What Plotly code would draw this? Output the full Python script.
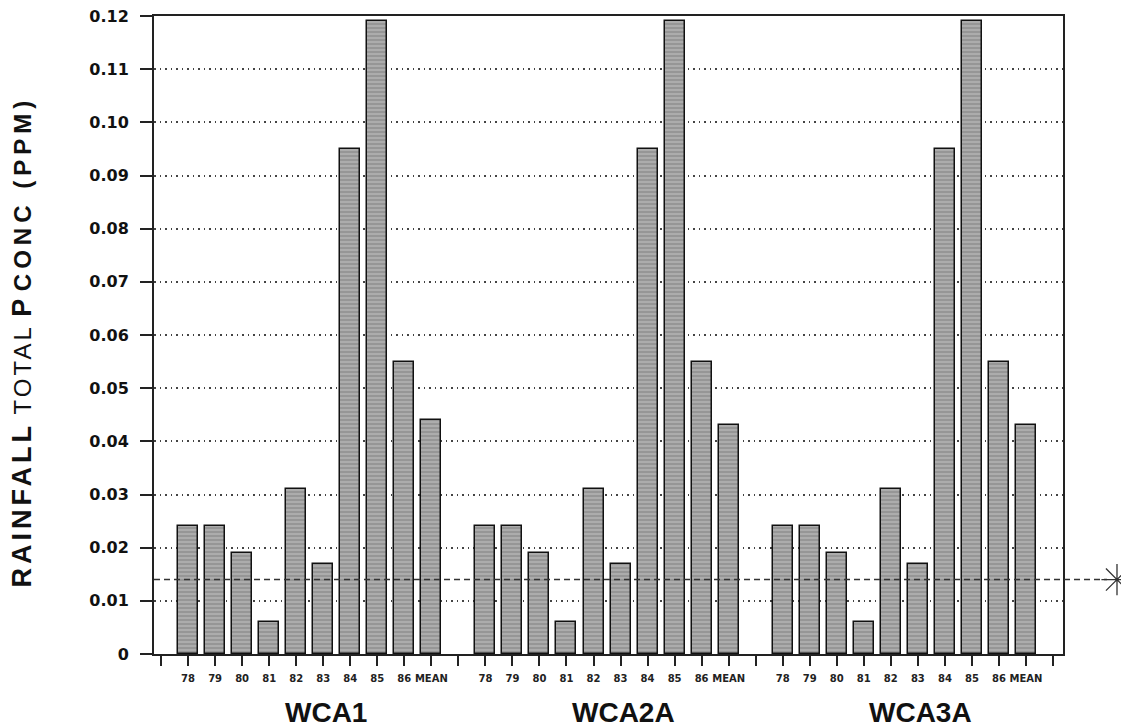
import plotly.graph_objects as go

# ---- data ----
years = ["78", "79", "80", "81", "82", "83", "84", "85", "86", "MEAN"]
groups = ["WCA1", "WCA2A", "WCA3A"]
wca1 = [0.024, 0.024, 0.019, 0.006, 0.031, 0.017, 0.095, 0.119, 0.055, 0.044]
wca2a = [0.024, 0.024, 0.019, 0.006, 0.031, 0.017, 0.095, 0.119, 0.055, 0.043]
wca3a = [0.024, 0.024, 0.019, 0.006, 0.031, 0.017, 0.095, 0.119, 0.055, 0.043]
series = [wca1, wca2a, wca3a]
reference_level = 0.014
y_ticks = [0, 0.01, 0.02, 0.03, 0.04, 0.05, 0.06, 0.07, 0.08, 0.09, 0.10, 0.11, 0.12]
y_ticktext = ["0", "0.01", "0.02", "0.03", "0.04", "0.05", "0.06", "0.07",
              "0.08", "0.09", "0.10", "0.11", "0.12"]

# slot layout: an empty slot before, between and after each group
xs, ys, tickvals, ticktext = [], [], [], []
group_centers = []
slot = 0
tickvals.append(slot); ticktext.append("")
for g, vals in enumerate(series):
    start = slot + 1
    for i, v in enumerate(vals):
        slot += 1
        xs.append(slot); ys.append(v)
        tickvals.append(slot); ticktext.append(years[i])
    group_centers.append((start + slot) / 2)
    slot += 1
    tickvals.append(slot); ticktext.append("")
last_slot = slot

# page body has an 8px margin, so the figure is sized/offset to fit
W, H = 1121, 720
ML, MR, MT, MB = 146, 4, 8, 74
paper_w = W - ML - MR
SCREEN_LEFT = 154
main_right = (1063 - SCREEN_LEFT) / paper_w


def px(xpix):
    return (xpix - SCREEN_LEFT) / paper_w


fig = go.Figure()
fig.add_trace(go.Bar(
    x=xs, y=ys, width=0.74,
    marker=dict(
        color="#a0a0a0",
        line=dict(color="#111111", width=1.5),
        pattern=dict(shape="-", bgcolor="#969696", fgcolor="#d2d2d2",
                     size=4, solidity=0.35),
    ),
    showlegend=False, hoverinfo="skip",
))

# reference-level asterisk, in a small side subplot right of the frame
fig.add_trace(go.Scatter(
    x=[0.86], y=[reference_level], mode="markers",
    xaxis="x2", yaxis="y2",
    marker=dict(symbol="asterisk-open", size=26, color="#333333",
                line=dict(color="#333333", width=1.3)),
    cliponaxis=False, showlegend=False, hoverinfo="skip",
))

fig.add_shape(type="line", xref="paper", yref="y",
              x0=0, x1=px(1107), y0=reference_level, y1=reference_level,
              line=dict(color="#333333", width=1.6, dash="6px,4px"),
              layer="above")

fig.update_layout(
    width=W, height=H,
    margin=dict(l=ML, r=MR, t=MT, b=MB, autoexpand=False),
    paper_bgcolor="white", plot_bgcolor="white",
    bargap=0,
    xaxis=dict(
        domain=[0, main_right], automargin=False,
        range=[-0.26, last_slot + 0.37],
        tickmode="array", tickvals=tickvals, ticktext=ticktext,
        ticks="outside", ticklen=10, tickwidth=1.5, tickcolor="#222222",
        tickfont=dict(family="DejaVu Sans", size=10, color="#222222", weight="bold"),
        tickangle=0, ticklabelstandoff=4,
        showgrid=False, zeroline=False,
        showline=True, linecolor="#222222", linewidth=2, mirror=True,
    ),
    yaxis=dict(
        automargin=False,
        range=[0, 0.12],
        tickmode="array", tickvals=y_ticks, ticktext=y_ticktext,
        ticks="outside", ticklen=12, tickwidth=1.5, tickcolor="#222222",
        tickfont=dict(family="DejaVu Sans", size=16, color="#111111", weight="bold"),
        ticklabelstandoff=8, ticklabeloverflow="allow",
        showgrid=True, gridcolor="#444444", gridwidth=1.5, griddash="1.5px,4px",
        zeroline=False,
        showline=True, linecolor="#222222", linewidth=2, mirror=True,
    ),
    xaxis2=dict(domain=[main_right + 0.005, 1], range=[0, 1], anchor="y2",
                visible=False, showgrid=False, zeroline=False, automargin=False),
    yaxis2=dict(domain=[0, 1], range=[0, 0.12], anchor="x2",
                visible=False, showgrid=False, zeroline=False, automargin=False),
)

# group labels
for name, c in zip(groups, group_centers):
    fig.add_annotation(
        x=c + 0.6, xref="x", y=-0.091, yref="paper",
        text=name, showarrow=False, xanchor="center", yanchor="middle",
        font=dict(family="Liberation Sans", size=28, color="#111111", weight="bold"),
    )

# y-axis title with mixed weights/sizes
title_text = (
    '<span style="letter-spacing:4px"><b>RAINFALL</b></span> '
    '<span style="font-size:24px;letter-spacing:3px">TOTAL</span> '
    '<b>P</b> '
    '<span style="font-size:24px;letter-spacing:5px"><b>CONC (PPM)</b></span>'
)
fig.add_annotation(
    x=px(22), xref="paper", y=0.49, yref="paper",
    text=title_text, showarrow=False, textangle=-90,
    xanchor="center", yanchor="middle",
    font=dict(family="Liberation Sans", size=27, color="#111111"),
)

fig.write_html("out.html")
